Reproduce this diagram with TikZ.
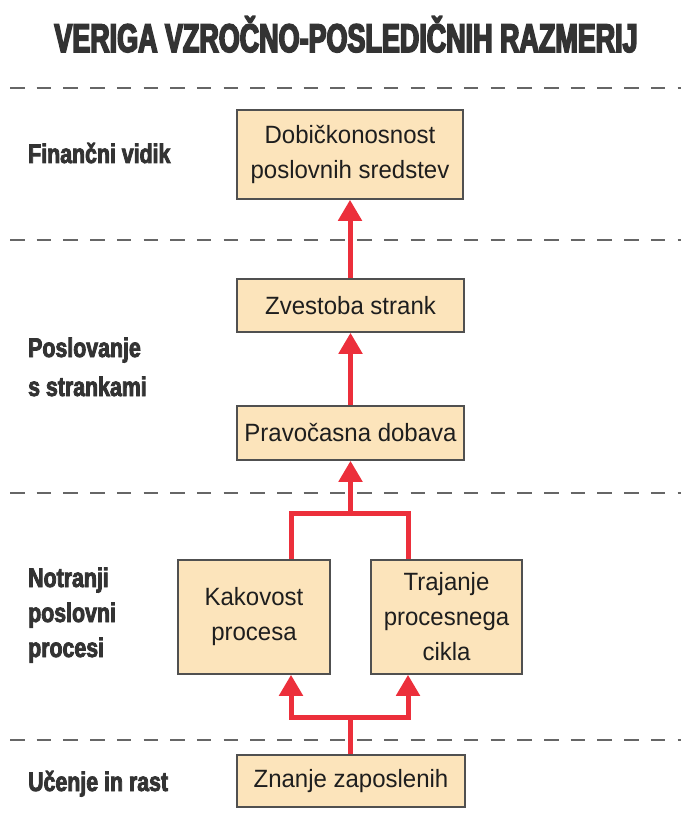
\documentclass[tikz,border=0pt]{standalone}
\usepackage{fontspec}
\setmainfont{Liberation Sans}[FakeStretch=0.96]
\newfontfamily\titlefont{Liberation Sans Bold}[FakeStretch=0.673,FakeBold=4]
\newfontfamily\sidefont{Liberation Sans Bold}[FakeStretch=0.79,FakeBold=3]
\usetikzlibrary{arrows.meta}

\definecolor{boxfill}{HTML}{FCE4BB}
\definecolor{boxline}{HTML}{505050}
\definecolor{linkred}{HTML}{EC2F3B}
\definecolor{sepgray}{HTML}{666666}
\definecolor{inktext}{HTML}{1E1E1E}
\definecolor{headtext}{HTML}{333333}

\tikzset{
  stagebox/.style={draw=boxline, fill=boxfill, line width=1.6pt, inner sep=0pt,
    align=center, text=inktext, font=\fontsize{25}{35}\selectfont},
  sidelabel/.style={anchor=base west, align=left, inner sep=0pt, text=headtext},
  separator/.style={draw=sepgray, line width=2.8pt, dash pattern=on 14.5pt off 12.2pt},
  link/.style={draw=linkred, line width=5pt, line join=miter},
  linkarrow/.style={link, -{Triangle[length=21pt,width=23pt]}},
}

\begin{document}
\begin{tikzpicture}[x=1pt,y=-1pt]
\useasboundingbox (0,0) rectangle (681,821);

% heading
\node[anchor=base, inner sep=0pt, text=headtext, font=\titlefont\fontsize{40}{40}\selectfont]
  (title) at (346,52) {VERIGA VZROČNO-POSLEDIČNIH RAZMERIJ};

% perspective separators
\coordinate (s1l) at (10,88);  \coordinate (s1r) at (681,88);
\coordinate (s2l) at (10,240); \coordinate (s2r) at (681,240);
\coordinate (s3l) at (10,493); \coordinate (s3r) at (681,493);
\coordinate (s4l) at (10,740); \coordinate (s4r) at (681,740);
\draw[separator] (s1l) -- (s1r);
\draw[separator] (s2l) -- (s2r);
\draw[separator] (s3l) -- (s3r);
\draw[separator] (s4l) -- (s4r);

% perspective names (base anchor sits on the last line)
\node[sidelabel, font=\sidefont\fontsize{27}{35}\selectfont] (fin) at (28,163) {Finančni vidik};
\node[sidelabel, font=\sidefont\fontsize{27}{39}\selectfont] (cust) at (28,396) {Poslovanje\\s strankami};
\node[sidelabel, font=\sidefont\fontsize{27}{35}\selectfont] (proc) at (28,657) {Notranji\\poslovni\\procesi};
\node[sidelabel, font=\sidefont\fontsize{27}{35}\selectfont] (learn) at (28,791) {Učenje in rast};

% measures
\node[stagebox, minimum width=226pt, minimum height=89pt] (roa) at (350,154.5)
  {Dobičkonosnost\\poslovnih sredstev};
\node[stagebox, minimum width=227pt, minimum height=53pt] (loyal) at (350.5,305.5)
  {Zvestoba strank};
\node[stagebox, minimum width=227pt, minimum height=54pt] (ontime) at (350.5,433)
  {Pravočasna dobava};
\node[stagebox, minimum width=152pt, minimum height=114pt] (quality) at (254,617)
  {Kakovost\\procesa};
\node[stagebox, minimum width=151pt, minimum height=114pt] (cycle) at (446.5,617)
  {Trajanje\\procesnega\\cikla};
\node[stagebox, minimum width=228pt, minimum height=52pt] (skills) at (351,781)
  {Znanje zaposlenih};

% cause-and-effect links
\draw[linkarrow] (loyal.north -| roa.south) -- (roa.south);
\draw[linkarrow] (ontime.north) -- (loyal.south);

\coordinate (jc) at (350.5,513);
\coordinate (jl) at (291,513);
\coordinate (jr) at (408,513);
\draw[link] (jl |- quality.north) -- (jl) -- (jr) -- (jr |- cycle.north);
\draw[linkarrow] (jc) -- (ontime.south);

\coordinate (bc) at (350.5,717);
\coordinate (bl) at (291,717);
\coordinate (br) at (408,717);
\draw[link] (skills.north -| bc) -- (bc);
\draw[linkarrow] (bc) -- (bl) -- (bl |- quality.south);
\draw[linkarrow] (bc) -- (br) -- (br |- cycle.south);
\end{tikzpicture}
\end{document}
